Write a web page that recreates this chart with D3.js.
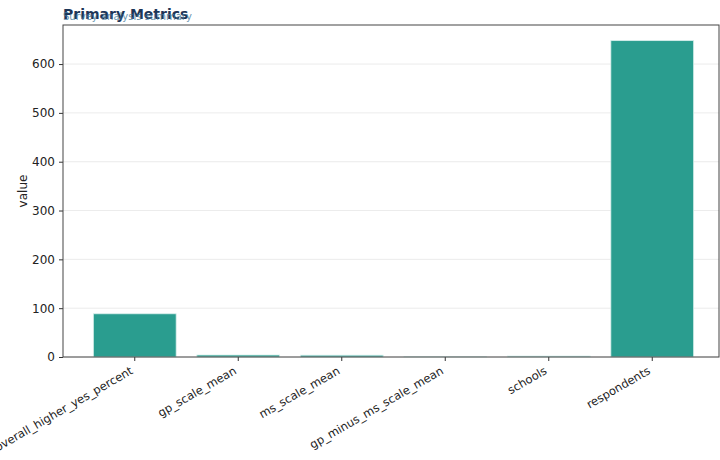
<!DOCTYPE html>
<html>
<head>
<meta charset="utf-8">
<script src="https://cdn.jsdelivr.net/npm/d3@7"></script>
<style>
  body { margin: 0; background: #fff; }
  text { font-family: "DejaVu Sans", sans-serif; }
</style>
</head>
<body>
<script>
var svgWidth = 720;
var svgHeight = 460;

// chart values
var categories = ["overall_higher_yes_percent", "gp_scale_mean", "ms_scale_mean",
                  "gp_minus_ms_scale_mean", "schools", "respondents"];
var values = [88.5, 4.1, 3.7, 0.4, 2, 648];
var yTicks = [0, 100, 200, 300, 400, 500, 600];

var titleText = "Primary Metrics";
var subtitleText = "Survey analysis summary";

var margin = { left: 63, right: 1, top: 25, bottom: 103 };
var plotRight = svgWidth - margin.right;
var plotBottom = svgHeight - margin.bottom;

var svg = d3.select("body").append("svg").attr("width", svgWidth).attr("height", svgHeight);

var x = d3.scaleBand()
    .domain(categories)
    .range([83, 704])
    .paddingInner(0.2)
    .paddingOuter(0.1);

var y = d3.scaleLinear()
    .domain([0, 680])
    .range([plotBottom, margin.top]);

// grid lines
svg.append("g").selectAll("line").data(yTicks).join("line")
    .attr("x1", margin.left).attr("x2", plotRight)
    .attr("y1", function(d) { return y(d); })
    .attr("y2", function(d) { return y(d); })
    .attr("stroke", "#e6e6e6")
    .attr("stroke-width", 0.8);

// bars
svg.append("g").selectAll("rect").data(values).join("rect")
    .attr("x", function(d, i) { return x(categories[i]); })
    .attr("width", x.bandwidth())
    .attr("y", function(d) { return y(d); })
    .attr("height", function(d) { return plotBottom - y(d); })
    .attr("fill", "#2a9d8f")
    .attr("stroke", "#d8efec")
    .attr("stroke-width", 0.8);

// y axis
var yAxis = svg.append("g")
    .attr("transform", "translate(" + margin.left + ",0)")
    .call(d3.axisLeft(y).tickValues(yTicks).tickSize(4).tickPadding(4));
yAxis.select(".domain").remove();
yAxis.selectAll("text").attr("font-size", 12).attr("fill", "#222");
yAxis.selectAll("line").attr("stroke", "#333");

// x axis, labels rotated 30deg and right-aligned on the tick
var xAxis = svg.append("g")
    .attr("transform", "translate(0," + plotBottom + ")")
    .call(d3.axisBottom(x).tickSize(4).tickPadding(3));
xAxis.select(".domain").remove();
xAxis.selectAll("line").attr("stroke", "#333");
xAxis.selectAll("text")
    .attr("font-size", 11.5)
    .attr("fill", "#222")
    .attr("text-anchor", "end")
    .attr("y", 0)
    .attr("dy", 0)
    .attr("transform", "translate(-1,16) rotate(-30)");

// frame
svg.append("rect")
    .attr("x", margin.left).attr("y", margin.top)
    .attr("width", plotRight - margin.left)
    .attr("height", plotBottom - margin.top)
    .attr("fill", "none")
    .attr("stroke", "#444")
    .attr("stroke-width", 1);

// axis label
svg.append("text")
    .attr("transform", "translate(27," + ((margin.top + plotBottom) / 2) + ") rotate(-90)")
    .attr("text-anchor", "middle")
    .attr("font-size", 12)
    .attr("fill", "#222")
    .text("value");

// title + subtitle (they overlap in the original too)
svg.append("text")
    .attr("x", 63).attr("y", 19)
    .attr("font-size", 14)
    .attr("font-weight", "bold")
    .attr("fill", "#1d3557")
    .text(titleText);

svg.append("text")
    .attr("x", 63).attr("y", 20)
    .attr("font-size", 10)
    .attr("fill", "#457b9d")
    .attr("opacity", 0.8)
    .text(subtitleText);
</script>
</body>
</html>
